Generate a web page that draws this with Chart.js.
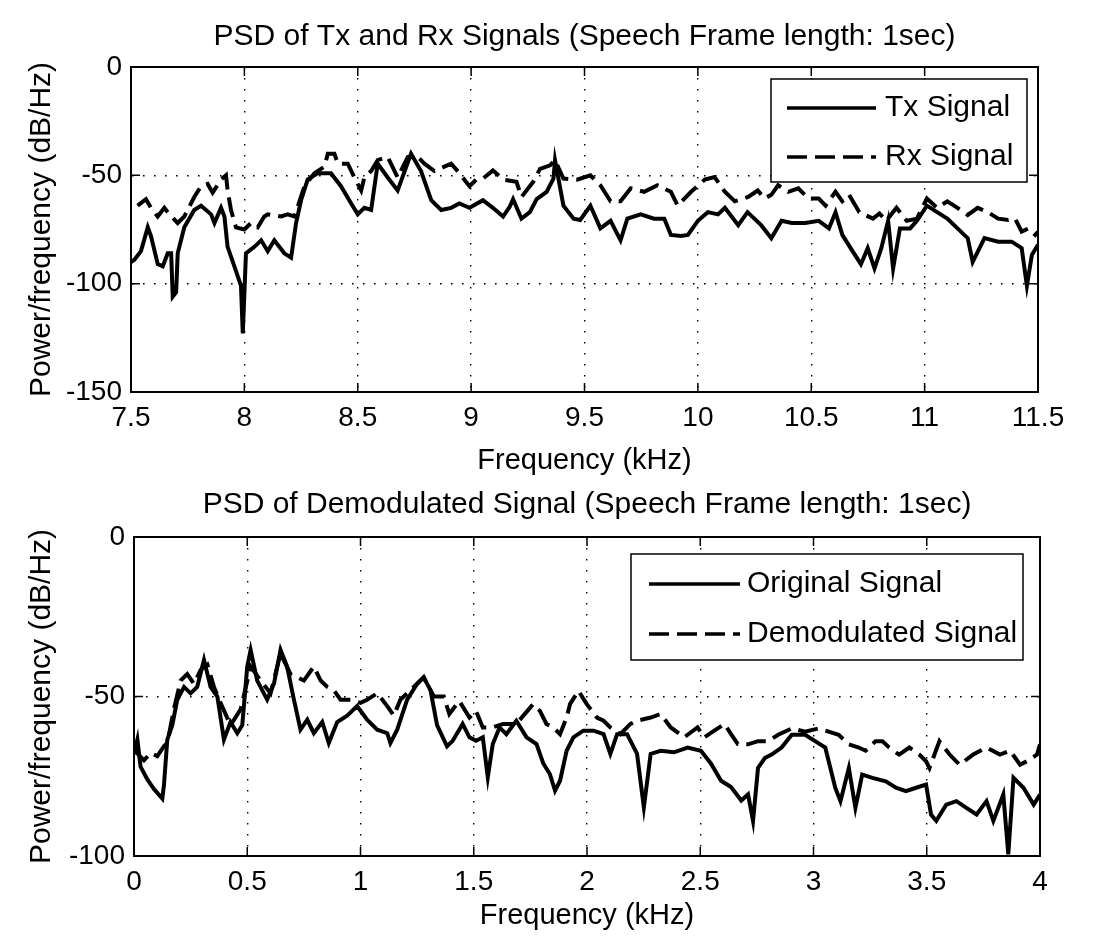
<!DOCTYPE html>
<html>
<head>
<meta charset="utf-8">
<script src="https://cdn.jsdelivr.net/npm/chart.js@4.4.0/dist/chart.umd.min.js"></script>
<style>
  html, body { margin: 0; padding: 0; background: #fff; }
  .panel { position: absolute; left: 0; width: 1094px; }
  #topPanel { top: 0; height: 480px; }
  #bottomPanel { top: 480px; height: 464px; }
</style>
</head>
<body>
<div class="panel" id="topPanel"><canvas id="txRxChart"></canvas></div>
<div class="panel" id="bottomPanel"><canvas id="demodChart"></canvas></div>
<script>
// --- top panel: Tx / Rx (freq in kHz, PSD in dB/Hz) ---
const txFreq = [7.5, 7.515, 7.544, 7.574, 7.588, 7.618, 7.64, 7.662, 7.677, 7.684, 7.699, 7.706, 7.735, 7.779, 7.809,
  7.853, 7.868, 7.897, 7.912, 7.926, 7.956, 7.985, 7.993, 8.007, 8.044, 8.074, 8.103, 8.132, 8.176, 8.206, 8.228,
  8.25, 8.279, 8.324, 8.382, 8.426, 8.471, 8.5, 8.529, 8.559, 8.588, 8.632, 8.676, 8.735, 8.779, 8.824, 8.868,
  8.912, 8.948, 8.993, 9.052, 9.096, 9.141, 9.17, 9.185, 9.222, 9.259, 9.289, 9.333, 9.363, 9.37, 9.407, 9.452,
  9.481, 9.526, 9.57, 9.615, 9.659, 9.689, 9.748, 9.807, 9.852, 9.881, 9.926, 9.956, 10.0, 10.044, 10.089, 10.119,
  10.178, 10.219, 10.279, 10.324, 10.369, 10.414, 10.473, 10.533, 10.578, 10.607, 10.637, 10.682, 10.719, 10.749,
  10.779, 10.809, 10.839, 10.861, 10.891, 10.936, 10.966, 11.01, 11.055, 11.1, 11.145, 11.19, 11.212, 11.264,
  11.324, 11.384, 11.428, 11.451, 11.473, 11.5]
const txPower = [-90, -89, -85, -74, -78, -91, -92, -86, -86, -106, -104, -86, -74, -66, -64,
  -68, -72, -65, -69, -83, -92, -101, -123, -86, -83, -80, -85, -80, -86, -88, -72,
  -61.5, -52, -49, -49, -55, -63, -68, -65, -66, -44.6, -51, -57, -40, -48, -61.5, -66,
  -65, -63, -65, -61.5, -65, -69, -64.5, -61, -70, -67, -61, -57.6, -51.5, -43, -64, -70,
  -70.6, -64, -74.5, -71, -80, -70, -68, -70, -70, -77.5, -78, -77.5, -71, -67, -68, -65,
  -73, -67, -73, -79, -71, -72, -72, -71, -74.5, -67, -77.5, -85, -91, -83.6,
  -93, -83.6, -71, -93, -74.5, -74.5, -71, -64, -67, -70, -74.5, -79, -90, -79,
  -80.6, -80.6, -83.6, -101, -86.7, -82]

const rxFreq = [7.529, 7.566, 7.588, 7.618, 7.647, 7.662, 7.706, 7.735, 7.779, 7.809, 7.838, 7.86, 7.897, 7.919,
  7.926, 7.941, 7.963, 8.0, 8.029, 8.059, 8.088, 8.103, 8.162, 8.191, 8.221, 8.265, 8.309, 8.353, 8.368, 8.397,
  8.412, 8.456, 8.485, 8.515, 8.529, 8.559, 8.588, 8.632, 8.676, 8.721, 8.765, 8.794, 8.838, 8.882, 8.912, 8.948,
  8.993, 9.022, 9.052, 9.096, 9.141, 9.2, 9.222, 9.274, 9.304, 9.348, 9.37, 9.407, 9.467, 9.526, 9.57, 9.615,
  9.659, 9.704, 9.763, 9.822, 9.881, 9.911, 9.97, 10.03, 10.074, 10.119, 10.163, 10.222, 10.264, 10.294, 10.324,
  10.354, 10.399, 10.443, 10.488, 10.533, 10.563, 10.607, 10.637, 10.667, 10.712, 10.772, 10.801, 10.831, 10.876,
  10.921, 10.966, 11.01, 11.055, 11.1, 11.145, 11.19, 11.234, 11.279, 11.324, 11.369, 11.399, 11.428, 11.458,
  11.488, 11.5]
const rxPower = [-64, -61, -65, -69, -65, -67, -72, -69, -60, -55, -54, -58, -52, -50,
  -57, -66, -74, -75, -72, -74, -69, -68, -69, -68, -69, -55, -49, -46, -40, -40,
  -44.6, -44.6, -51, -57, -51, -48, -43, -41.5, -51, -41.5, -41.5, -44.6, -48, -46, -44.6, -49,
  -55, -52, -51.5, -47.7, -52, -53, -60, -53, -47, -45.4, -43, -51.5, -52, -50, -54.6, -62,
  -62, -56, -57.6, -54.6, -57.6, -64, -57.6, -52, -50.8, -57.6, -62, -60, -57, -60.7, -59,
  -54.6, -57.6, -56, -60.7, -60.7, -64, -57.6, -62, -59, -67, -70, -67.6, -71, -65,
  -71, -70, -60.7, -65, -62, -65, -68.3, -65, -67, -70, -70.6, -70, -76, -74.5,
  -77.5, -76]

const topFreqTicks = [7.5, 8, 8.5, 9, 9.5, 10, 10.5, 11, 11.5]
const topPowerTicks = [-150, -100, -50, 0]

// --- bottom panel: original / demodulated ---
const origFreq = [0, 0.015, 0.029, 0.059, 0.088, 0.125, 0.132, 0.147, 0.169, 0.191, 0.221, 0.25, 0.279, 0.309,
  0.338, 0.368, 0.397, 0.426, 0.456, 0.478, 0.5, 0.515, 0.544, 0.588, 0.618, 0.647, 0.676, 0.706, 0.735, 0.765,
  0.794, 0.831, 0.86, 0.897, 0.941, 0.985, 1.029, 1.074, 1.118, 1.132, 1.162, 1.206, 1.25, 1.279, 1.309, 1.338,
  1.382, 1.407, 1.451, 1.481, 1.51, 1.54, 1.562, 1.584, 1.614, 1.644, 1.688, 1.733, 1.777, 1.807, 1.836, 1.859,
  1.881, 1.91, 1.94, 1.984, 2.029, 2.073, 2.103, 2.133, 2.177, 2.221, 2.251, 2.281, 2.325, 2.384, 2.444, 2.503,
  2.547, 2.592, 2.636, 2.681, 2.711, 2.733, 2.755, 2.785, 2.815, 2.859, 2.904, 2.963, 3.007, 3.052, 3.096, 3.119,
  3.156, 3.185, 3.215, 3.26, 3.319, 3.364, 3.408, 3.453, 3.497, 3.519, 3.542, 3.586, 3.631, 3.675, 3.72, 3.764,
  3.794, 3.838, 3.86, 3.883, 3.927, 3.972, 4.0]
const origPower = [-68, -63.5, -72, -76, -79, -82, -78, -63.5, -59, -51, -47, -49, -47, -38.5,
  -47, -50, -63.5, -58, -61.5, -59, -40.6, -35.4, -45, -51, -46, -35.4, -40.6, -51, -60.4, -57.3,
  -61.5, -58, -64.6, -58, -56, -53, -57.3, -60.4, -61.5, -64.6, -60.4, -51, -46, -44, -48, -59,
  -65.6, -63.9, -58.6, -62.8, -63.9, -62.8, -75.3, -64.9, -59.7, -61.8, -57.6, -62.8, -64.9, -71, -74.3, -79.5,
  -76.4, -67, -62.8, -60.7, -60.7, -61.8, -68, -61.8, -61.8, -68, -84.7, -68, -67, -67.5, -66, -67,
  -71, -76.4, -78.4, -82.6, -80.7, -89, -72.4, -69.3, -68.2, -66, -62, -62, -64, -66, -78.6, -82.8,
  -72.4, -84.9, -74.5, -75.5, -76.6, -78.6, -79.7, -78.6, -77.6, -87, -89, -83.9, -82.8, -84.9, -87, -82.8,
  -89, -80.7, -99.5, -75.5, -78.6, -83.9, -80.7]

const demodFreq = [0, 0.044, 0.074, 0.103, 0.132, 0.147, 0.176, 0.206, 0.235, 0.265, 0.294, 0.324, 0.353, 0.382,
  0.426, 0.471, 0.515, 0.559, 0.603, 0.647, 0.691, 0.75, 0.794, 0.824, 0.853, 0.882, 0.912, 0.956, 1.0, 1.029,
  1.074, 1.118, 1.147, 1.176, 1.206, 1.25, 1.279, 1.324, 1.368, 1.392, 1.436, 1.481, 1.51, 1.54, 1.584, 1.629,
  1.688, 1.762, 1.792, 1.821, 1.851, 1.881, 1.91, 1.925, 1.962, 1.999, 2.044, 2.073, 2.103, 2.147, 2.192, 2.221,
  2.281, 2.325, 2.37, 2.429, 2.488, 2.518, 2.562, 2.607, 2.636, 2.666, 2.711, 2.755, 2.8, 2.844, 2.904, 2.963,
  3.022, 3.067, 3.111, 3.156, 3.2, 3.23, 3.274, 3.304, 3.334, 3.378, 3.423, 3.467, 3.497, 3.512, 3.556, 3.601,
  3.645, 3.705, 3.764, 3.823, 3.868, 3.912, 3.942, 3.987, 4.0]
const demodPower = [-66.7, -70, -67.7, -68.7, -65.6, -64.6, -54, -45, -43, -46, -41.7, -40, -47, -52,
  -59, -54, -40.6, -45, -49, -36.5, -43, -45, -40.6, -45, -47, -48, -51, -51, -52, -51,
  -49, -53, -56, -51, -49, -46, -44, -50, -50, -55.5, -51.4, -56.6, -54.5, -59.7, -59.7, -58.6,
  -58.6, -52.4, -54.5, -58.6, -59.7, -61.8, -56.6, -52.4, -48.2, -52.4, -56.6, -57.6, -59.7, -61.8, -58.6, -57.6,
  -56.6, -55.5, -59.7, -62.8, -59.7, -62.8, -60.7, -58.6, -61.8, -64.9, -65, -64, -64, -62, -60, -61,
  -60, -61, -62, -65, -66, -67, -64, -64, -66, -68.2, -66, -68.2, -70.3, -72.4, -64, -68.2,
  -71.4, -68.2, -66, -68.2, -67, -71.4, -70.3, -68.2, -65]

const bottomFreqTicks = [0, 0.5, 1, 1.5, 2, 2.5, 3, 3.5, 4]
const bottomPowerTicks = [-100, -50, 0]

Chart.defaults.font.family = '"Liberation Sans", Arial, Helvetica, sans-serif'
Chart.defaults.color = '#000'

const toPoints = (xs, ys) => xs.map((x, i) => ({ x: x, y: ys[i] }))

// box around the plot, MATLAB-style inward ticks and the boxed legend
const matlabFrame = {
    id: 'matlabFrame',
    afterDraw(chart, args, opts) {
        const { ctx, chartArea: a, scales: { x, y } } = chart
        ctx.save()
        ctx.setLineDash([])
        ctx.strokeStyle = '#000'
        ctx.lineWidth = 1.5
        ctx.beginPath()
        x.ticks.forEach(t => {
            const px = x.getPixelForValue(t.value)
            ctx.moveTo(px, a.bottom); ctx.lineTo(px, a.bottom - 9)
            ctx.moveTo(px, a.top); ctx.lineTo(px, a.top + 9)
        })
        y.ticks.forEach(t => {
            const py = y.getPixelForValue(t.value)
            ctx.moveTo(a.left, py); ctx.lineTo(a.left + 9, py)
            ctx.moveTo(a.right, py); ctx.lineTo(a.right - 9, py)
        })
        ctx.stroke()
        ctx.lineWidth = 2
        ctx.strokeRect(a.left, a.top, a.right - a.left, a.bottom - a.top)

        // legend
        const L = opts.box
        ctx.fillStyle = '#fff'
        ctx.fillRect(L.left, L.top, L.right - L.left, L.bottom - L.top)
        ctx.lineWidth = 1.5
        ctx.strokeRect(L.left, L.top, L.right - L.left, L.bottom - L.top)
        ctx.font = '30px "Liberation Sans", Arial, sans-serif'
        ctx.textBaseline = 'middle'
        ctx.fillStyle = '#000'
        chart.data.datasets.forEach((ds, i) => {
            const rowY = opts.rows[i]
            ctx.save()
            ctx.lineWidth = 3.5
            ctx.setLineDash(ds.borderDash || [])
            ctx.beginPath()
            ctx.moveTo(opts.sampleFrom, rowY)
            ctx.lineTo(opts.sampleTo, rowY)
            ctx.stroke()
            ctx.restore()
            ctx.fillText(ds.label, opts.textX, rowY)
        })
        ctx.restore()
    }
}

function psdChart(canvasId, cfg) {
    return new Chart(document.getElementById(canvasId), {
        type: 'line',
        data: {
            datasets: [{
                label: cfg.labels[0],
                data: cfg.solid,
                borderColor: '#000',
                borderWidth: 4,
                pointRadius: 0,
                tension: 0
            }, {
                label: cfg.labels[1],
                data: cfg.dashed,
                borderColor: '#000',
                borderWidth: 4,
                borderDash: [20, 8],
                pointRadius: 0,
                tension: 0
            }]
        },
        options: {
            responsive: true,
            maintainAspectRatio: false,
            animation: false,
            layout: { padding: { left: 0, right: cfg.padRight, top: 0, bottom: 0 } },
            plugins: {
                legend: { display: false },
                tooltip: { enabled: false },
                title: {
                    display: true,
                    fullSize: false,
                    text: cfg.title,
                    color: '#000',
                    font: { size: 30, weight: 'normal', lineHeight: 1.2 },
                    padding: cfg.titlePadding
                },
                matlabFrame: cfg.legend
            },
            scales: {
                x: {
                    type: 'linear',
                    min: cfg.xTicks[0],
                    max: cfg.xTicks[cfg.xTicks.length - 1],
                    afterBuildTicks: s => { s.ticks = cfg.xTicks.map(v => ({ value: v })) },
                    afterFit: s => { s.height = cfg.xAxisHeight },
                    ticks: { callback: v => String(v), font: { size: 28 }, padding: 9, maxRotation: 0, autoSkip: false },
                    grid: { color: '#000', lineWidth: 1.4, drawTicks: false },
                    border: { display: true, color: '#000', width: 2, dash: [1.6, 9.4] },
                    title: {
                        display: true,
                        text: 'Frequency (kHz)',
                        font: { size: 29, lineHeight: 1.2 },
                        padding: { top: 0, bottom: cfg.xTitlePad }
                    }
                },
                y: {
                    min: cfg.yTicks[0],
                    max: cfg.yTicks[cfg.yTicks.length - 1],
                    afterBuildTicks: s => { s.ticks = cfg.yTicks.map(v => ({ value: v })) },
                    afterFit: s => { s.width = cfg.yAxisWidth },
                    ticks: { callback: v => String(v), font: { size: 28 }, padding: 9 },
                    grid: { color: '#000', lineWidth: 1.4, drawTicks: false },
                    border: { display: true, color: '#000', width: 2, dash: [1.6, 9.4] },
                    title: {
                        display: true,
                        text: 'Power/frequency (dB/Hz)',
                        font: { size: 30, lineHeight: 1.2 },
                        padding: { top: 24, bottom: 0 }
                    }
                }
            }
        },
        plugins: [matlabFrame]
    })
}

psdChart('txRxChart', {
    title: 'PSD of Tx and Rx Signals (Speech Frame length: 1sec)',
    labels: ['Tx Signal', 'Rx Signal'],
    solid: toPoints(txFreq, txPower),
    dashed: toPoints(rxFreq, rxPower),
    xTicks: topFreqTicks,
    yTicks: topPowerTicks,
    padRight: 56,
    yAxisWidth: 131,
    xAxisHeight: 88,
    xTitlePad: 2,
    titlePadding: { top: 19, bottom: 12 },
    legend: { box: { left: 771, right: 1027, top: 79, bottom: 182 }, rows: [108, 157], sampleFrom: 787, sampleTo: 876, textX: 885 }
})

psdChart('demodChart', {
    title: 'PSD of Demodulated Signal (Speech Frame length: 1sec)',
    labels: ['Original Signal', 'Demodulated Signal'],
    solid: toPoints(origFreq, origPower),
    dashed: toPoints(demodFreq, demodPower),
    xTicks: bottomFreqTicks,
    yTicks: bottomPowerTicks,
    padRight: 54,
    yAxisWidth: 134,
    xAxisHeight: 88,
    xTitlePad: 11,
    titlePadding: { top: 7, bottom: 14 },
    legend: { box: { left: 631, right: 1023, top: 74, bottom: 180 }, rows: [104, 154], sampleFrom: 649, sampleTo: 740, textX: 747 }
})
</script>
</body>
</html>
